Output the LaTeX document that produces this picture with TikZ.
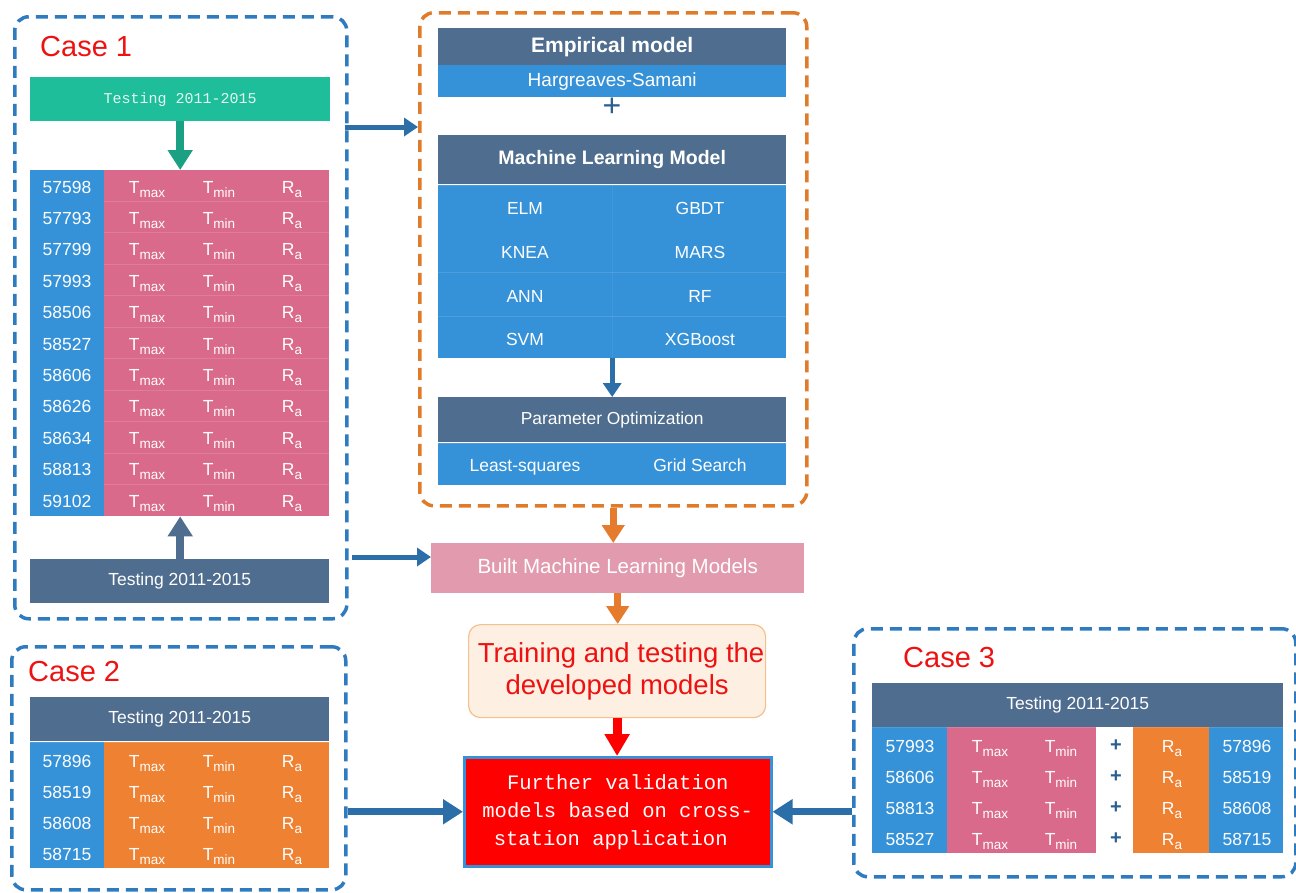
\documentclass[tikz,border=0pt]{standalone}
\usepackage{fontspec}
\setmainfont{Liberation Sans}
\newfontfamily\monof{Liberation Mono}
\usetikzlibrary{arrows.meta,calc}
\definecolor{dashblue}{HTML}{2E7BBF}
\definecolor{dashorange}{HTML}{E07B2A}
\definecolor{hdr}{HTML}{4F6D8E}
\definecolor{cellblue}{HTML}{3592D8}
\definecolor{cellpink}{HTML}{DA6A8C}
\definecolor{cellorange}{HTML}{EE8232}
\definecolor{tealc}{HTML}{1FBE9A}
\definecolor{builtpink}{HTML}{E29BAE}
\definecolor{arrblue}{HTML}{2B6EA8}
\definecolor{peach}{HTML}{FDEFE2}
\definecolor{peachedge}{HTML}{F5C08E}
\definecolor{redbox}{HTML}{FF0000}
\definecolor{casered}{HTML}{EE1111}
\definecolor{plusblue}{HTML}{2A5F91}
\definecolor{arrorange}{HTML}{E57B2C}
\newcommand\fsz[2]{\fontsize{#1pt}{#2pt}\selectfont}
\newcommand\Tsub[2]{#1\raisebox{-4pt}{\fsz{13.5}{13.5}#2}}
\begin{document}
\begin{tikzpicture}[x=1pt,y=-1pt,
  wh/.style 2 args={minimum width=#1pt, minimum height=#2pt},
  cell/.style={inner sep=0, anchor=north west, text=white},
  casebox/.style={draw=dashblue, line width=3.5pt, dash pattern=on 12pt off 7pt, rounded corners=14pt, inner sep=0, anchor=north west},
  modelbox/.style={draw=dashorange, line width=3.5pt, dash pattern=on 12pt off 7pt, rounded corners=14pt, inner sep=0, anchor=north west},
  casetxt/.style={text=casered, font=\fsz{29}{33}, anchor=west, inner sep=0},
  tt/.style={text=white, font=\fsz{17.5}{20}, anchor=base, inner sep=0},
  sep/.style={draw=white, opacity=0.12, line width=1pt},
  barr/.style={draw=arrblue, line width=5pt, -{Triangle[width=18pt,length=14pt]}},
  bbarr/.style={draw=arrblue, line width=7pt, -{Triangle[width=24pt,length=20pt]}},
  garr/.style={draw=tealc!85!black, line width=8pt, -{Triangle[width=24pt,length=20pt]}},
  darr/.style={draw=hdr, line width=8pt, -{Triangle[width=24pt,length=20pt]}},
  oarr/.style={draw=arrorange, line width=7pt, -{Triangle[width=22pt,length=18pt]}},
  rarr/.style={draw=redbox, line width=9pt, -{Triangle[width=24pt,length=22pt]}}
]
\useasboundingbox (0,0) rectangle (1296,892);

% ---------------- Case 1 ----------------
\node[casebox, wh={332}{602}] (case1) at (13,15) {};
\node[casetxt] (case1lbl) at (40,47) {Case 1};
\node[cell, fill=tealc, wh={300}{44}, font=\monof\fsz{15}{17}, text=white!88!tealc] (c1top) at (30,77) {Testing 2011-2015};
\node[cell, fill=cellblue, wh={74}{346}] (c1num) at (30,170) {};
\node[cell, fill=cellpink, wh={225}{346}] (c1val) at (104,170) {};
\foreach \i in {1,...,10}{\draw[sep] (104,{170+31.45*\i}) -- (329,{170+31.45*\i});}
\foreach \n [count=\k from 0] in {57598,57793,57799,57993,58506,58527,58606,58626,58634,58813,59102}{
  \node[tt] (c1n\k) at (67,{193+31.4*\k}) {\n};
  \node[tt] (c1x\k) at (147,{193+31.4*\k}) {\Tsub{T}{max}};
  \node[tt] (c1m\k) at (219,{193+31.4*\k}) {\Tsub{T}{min}};
  \node[tt] (c1r\k) at (292,{193+31.4*\k}) {\Tsub{R}{a}};
}
\node[cell, fill=hdr, wh={299}{44}, font=\fsz{17.5}{20}] (c1bot) at (30,559) {Testing 2011-2015};
\draw[garr] (c1top.south) -- (c1top.south |- c1val.north);
\draw[darr] (c1bot.north -| c1top.south) -- (c1val.south -| c1top.south);

% ---------------- Model box ----------------
\node[modelbox, wh={387}{493}] (model) at (418,11) {};
\node[cell, fill=hdr, wh={348}{37}, font=\bfseries\fsz{21}{24}] (emp) at (438,28) {Empirical model};
\node[cell, fill=cellblue, wh={348}{32}, font=\fsz{19}{22}] (hs) at (438,65) {Hargreaves-Samani};
\node[text=plusblue, font=\fsz{32}{32}, inner sep=0] (plus1) at (612,107) {+};
\node[cell, fill=hdr, wh={348}{49}, font=\bfseries\fsz{19.5}{22}] (mlh) at (438,135) {Machine Learning Model};
\node[cell, fill=cellblue, wh={348}{173}] (mla) at (438,185) {};
\draw[sep] (438,185) -- (786,185);
\draw[sep] (438,272) -- (786,272);
\draw[sep] (438,316) -- (786,316);
\draw[draw=white, opacity=0.06, line width=1pt] (612,185) -- (612,358);
\node[tt] (elm) at (525,214) {ELM};
\node[tt] (gbdt) at (700,214) {GBDT};
\node[tt] (knea) at (525,258) {KNEA};
\node[tt] (mars) at (700,258) {MARS};
\node[tt] (ann) at (525,302) {ANN};
\node[tt] (rf) at (700,302) {RF};
\node[tt] (svm) at (525,345) {SVM};
\node[tt] (xgb) at (700,345) {XGBoost};
\node[cell, fill=hdr, wh={348}{45}, font=\fsz{17.4}{20}] (poh) at (438,397) {Parameter Optimization};
\node[cell, fill=cellblue, wh={348}{42}] (poa) at (438,443) {};
\draw[sep] (438,443) -- (786,443);
\node[tt] (ls) at (525,471) {Least-squares};
\node[tt] (gs) at (700,471) {Grid Search};
\draw[barr] (mla.south) -- (poh.north);

% ---------------- Centre flow ----------------
\node[cell, fill=builtpink, wh={373}{50}, font=\fsz{20.5}{24}] (built) at (431,543) {Built Machine Learning Models};
\node[anchor=north west, rounded corners=12pt, draw=peachedge, line width=1.2pt, fill=peach, wh={297}{93}, inner sep=0, align=center, text=casered, font=\fsz{27.5}{32}] (train) at (468,624) {\hspace*{8pt}Training and testing the\\developed models};
\node[cell, fill=redbox, draw=cellblue, line width=2.5pt, wh={307}{109}, align=center, font=\monof\fsz{20.5}{28}] (red) at (463,756) {Further validation\\models based on cross-\\station application\hspace*{14pt}};

\draw[oarr] (model.south) -- (model.south |- built.north);
\draw[oarr] (built.south) -- (built.south |- train.north);
\draw[rarr] (train.south) -- (train.south |- red.north);

\coordinate (m1) at (345,127);
\draw[barr] (m1) -- (m1 -| model.west);
\coordinate (m2) at (352,557);
\draw[barr] (m2) -- (m2 -| built.west);

% ---------------- Case 2 ----------------
\node[casebox, wh={334}{243}] (case2) at (10,645) {};
\node[casetxt] (case2lbl) at (28,672) {Case 2};
\node[cell, fill=hdr, wh={299}{44}, font=\fsz{17.5}{20}] (c2h) at (30,697) {Testing 2011-2015};
\node[cell, fill=cellblue, wh={74}{126}] (c2num) at (30,742) {};
\node[cell, fill=cellorange, wh={225}{126}] (c2val) at (104,742) {};
\draw[sep] (30,742) -- (329,742);
\foreach \n [count=\k from 0] in {57896,58519,58608,58715}{
  \node[tt] (c2n\k) at (67,{767+31.3*\k}) {\n};
  \node[tt] (c2x\k) at (147,{767+31.3*\k}) {\Tsub{T}{max}};
  \node[tt] (c2m\k) at (219,{767+31.3*\k}) {\Tsub{T}{min}};
  \node[tt] (c2r\k) at (292,{767+31.3*\k}) {\Tsub{R}{a}};
}
\draw[bbarr] (red.west -| case2.east) -- (red.west);

% ---------------- Case 3 ----------------
\node[casebox, wh={442}{248}] (case3) at (852,627) {};
\node[casetxt] (case3lbl) at (903,658) {Case 3};
\node[cell, fill=hdr, wh={411}{44}, font=\fsz{17.5}{20}] (c3h) at (872,683) {Testing 2011-2015};
\node[cell, fill=cellblue, wh={75}{126}] (c3numl) at (872,727) {};
\node[cell, fill=cellpink, wh={149}{126}] (c3pink) at (947,727) {};
\node[cell, fill=cellorange, wh={76}{126}] (c3or) at (1133,727) {};
\node[cell, fill=cellblue, wh={74}{126}] (c3numr) at (1209,727) {};
\draw[sep] (872,727) -- (1283,727);
\foreach \a/\b [count=\k from 0] in {57993/57896,58606/58519,58813/58608,58527/58715}{
  \node[tt] (c3n\k) at (910,{752+31*\k}) {\a};
  \node[tt] (c3x\k) at (990,{752+31*\k}) {\Tsub{T}{max}};
  \node[tt] (c3m\k) at (1061,{752+31*\k}) {\Tsub{T}{min}};
  \node[tt, text=plusblue, font=\bfseries\fsz{20}{20}] (c3p\k) at (1116,{751+31*\k}) {+};
  \node[tt] (c3r\k) at (1172,{752+31*\k}) {\Tsub{R}{a}};
  \node[tt] (c3q\k) at (1247,{752+31*\k}) {\b};
}
\draw[bbarr] (red.east -| case3.west) -- (red.east);
\end{tikzpicture}
\end{document}
